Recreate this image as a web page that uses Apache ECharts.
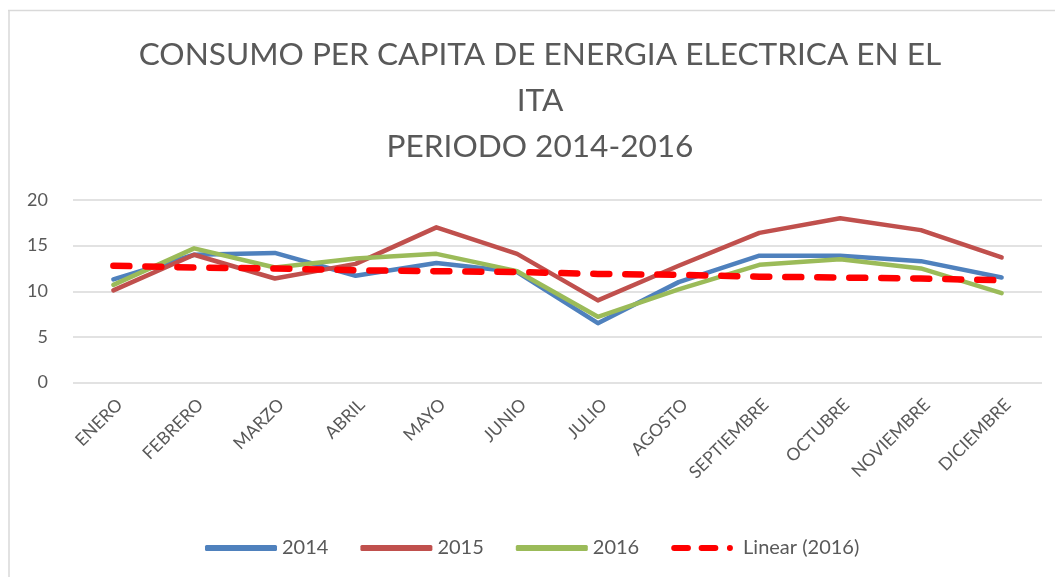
<!DOCTYPE html>
<html>
<head>
<meta charset="utf-8">
<script src="https://cdn.jsdelivr.net/npm/echarts@6/dist/echarts.min.js"></script>
<style>html,body{margin:0;padding:0;background:#fff;}#c{width:1055px;height:577px;}</style>
</head>
<body>
<div id="c"></div>
<script>
const titleText = 'CONSUMO PER CAPITA DE ENERGIA ELECTRICA EN EL\nITA\nPERIODO 2014-2016';
const months = ['ENERO','FEBRERO','MARZO','ABRIL','MAYO','JUNIO','JULIO','AGOSTO','SEPTIEMBRE','OCTUBRE','NOVIEMBRE','DICIEMBRE'];
const s2014 = [11.3, 14.0, 14.2, 11.7, 13.1, 12.1, 6.5, 11.0, 13.9, 13.9, 13.3, 11.5];
const s2015 = [10.1, 14.0, 11.4, 13.0, 17.0, 14.1, 9.0, 12.8, 16.4, 18.0, 16.7, 13.7];
const s2016 = [10.7, 14.7, 12.6, 13.6, 14.1, 12.2, 7.2, 10.2, 12.9, 13.5, 12.5, 9.8];
const trend2016 = [12.8, 12.6, 12.5, 12.3, 12.2, 12.1, 11.9, 11.8, 11.6, 11.5, 11.4, 11.2];
const seriesNames = ['2014', '2015', '2016', 'Linear (2016)'];
const yTicks = [0, 5, 10, 15, 20];

const FONT = 'Lato';
const colors = ['#4F81BD', '#C0504D', '#9BBB59', '#FF0000'];
const dashIcon = 'path://M3.5 0 H19.5 A3.5 3.5 0 0 1 19.5 7 H3.5 A3.5 3.5 0 0 1 3.5 0 Z ' +
  'M35.5 0 H51.5 A3.5 3.5 0 0 1 51.5 7 H35.5 A3.5 3.5 0 0 1 35.5 0 Z ' +
  'M68.5 0 A3.5 3.5 0 0 1 68.5 7 A3.5 3.5 0 0 1 68.5 0 Z';
const chart = echarts.init(document.getElementById('c'), null, {renderer: 'canvas'});
function lineSeries(i, data, extra) {
  return Object.assign({
    name: seriesNames[i], type: 'line', data: data, symbol: 'none', smooth: false,
    lineStyle: {color: colors[i], width: 4.5, cap: 'round', join: 'round'},
    itemStyle: {color: colors[i]}
  }, extra || {});
}
chart.setOption({
  backgroundColor: '#ffffff',
  animation: false,
  graphic: [
    {type: 'line', shape: {x1: 8, y1: 10.5, x2: 1055, y2: 10.5}, style: {stroke: '#d9d9d9', lineWidth: 1.5}, silent: true},
    {type: 'line', shape: {x1: 9, y1: 10, x2: 9, y2: 577}, style: {stroke: '#d9d9d9', lineWidth: 1.5}, silent: true},
    {type: 'text', x: 540, y: 32, silent: true, style: {
      text: titleText, align: 'center', verticalAlign: 'top',
      fontFamily: FONT, fontSize: 31.6, fontWeight: 'normal', fill: '#595959', lineHeight: 46
    }}
  ],
  legend: {
    data: [
      {name: seriesNames[0], icon: 'roundRect'},
      {name: seriesNames[1], icon: 'roundRect'},
      {name: seriesNames[2], icon: 'roundRect'},
      {name: seriesNames[3], icon: dashIcon}
    ],
    left: 200, top: 533, itemWidth: 72, itemHeight: 6, itemGap: 32,
    textStyle: {fontFamily: FONT, fontSize: 20, color: '#595959'}
  },
  grid: {left: 73, right: 13, top: 200, bottom: 194.5, containLabel: false},
  xAxis: {
    type: 'category', data: months, boundaryGap: true,
    axisLine: {show: false}, axisTick: {show: false},
    axisLabel: {rotate: 45, margin: 13, verticalAlign: 'top', color: '#595959', fontFamily: FONT, fontSize: 17.5, interval: 0}
  },
  yAxis: {
    type: 'value', min: yTicks[0], max: yTicks[yTicks.length - 1], interval: 5,
    axisLine: {show: false}, axisTick: {show: false},
    axisLabel: {margin: 25, color: '#595959', fontFamily: FONT, fontSize: 18},
    splitLine: {lineStyle: {color: '#d9d9d9', width: 1.5}}
  },
  series: [
    lineSeries(0, s2014),
    lineSeries(1, s2015),
    lineSeries(2, s2016),
    lineSeries(3, trend2016, {
      lineStyle: {color: colors[3], width: 6.5, type: [16, 16], cap: 'round', join: 'round'}
    })
  ]
});
</script>
</body>
</html>
